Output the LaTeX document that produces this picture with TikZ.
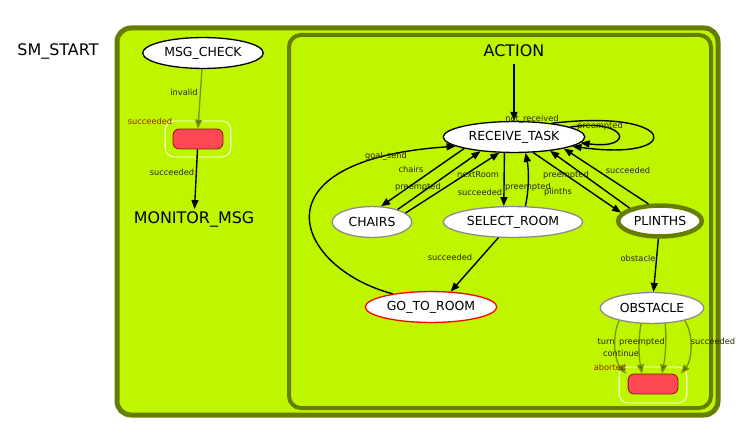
\documentclass[tikz,border=0pt]{standalone}
\usepackage{fontspec}
\setmainfont{DejaVu Sans}
\usetikzlibrary{arrows.meta,shapes.geometric}
\definecolor{limefill}{RGB}{192,245,0}
\definecolor{boxolive}{RGB}{102,126,0}
\definecolor{edgeolive}{RGB}{118,150,0}
\definecolor{headolive}{RGB}{92,112,20}
\definecolor{stategray}{RGB}{140,140,140}
\definecolor{endred}{RGB}{255,72,82}
\definecolor{endborder}{RGB}{140,20,30}
\definecolor{outcome}{RGB}{150,40,0}
\definecolor{labeltext}{RGB}{40,40,0}

\begin{document}
\begin{tikzpicture}[x=1bp,y=-1bp,
	trans/.style={line width=1.4bp,->,>={Triangle[length=9bp,width=7bp]}},
	soft/.style={line width=1.3bp,draw=edgeolive,->,>={Triangle[length=9bp,width=7bp,fill=headolive]}},
	state/.style={draw=stategray,line width=1.3bp,ellipse,fill=white,inner sep=0pt,
		minimum width=#1,minimum height=31,font=\fontsize{12.5}{14}\selectfont},
	big/.style={font=\fontsize{16}{18}\selectfont,inner sep=2pt},
	lbl/.style={font=\fontsize{8.3}{9}\selectfont,text=labeltext,inner sep=0pt,text height=6,text depth=1.5},
	endbox/.style={draw=endborder,fill=endred,line width=0.8bp,rounded corners=6,minimum width=50,minimum height=20,inner sep=0pt},
	endframe/.style={draw=white,line width=0.8bp,rounded corners=9,minimum width=66,minimum height=36,inner sep=0pt}]
\useasboundingbox (0,0) rectangle (749,437);

% containers
\draw[line width=5bp,draw=boxolive,fill=limefill,rounded corners=14] (117,28) rectangle (718,415);
\draw[line width=4bp,draw=boxolive,rounded corners=12] (289,35) rectangle (711,408);

\node[big] (smstart) at (58,51) {SM\_START};

% left container
\node[state=121,draw=black] (msgcheck) at (203,53) {MSG\_CHECK};
\node[endframe] (frameA) at (198,139) {};
\node[endbox] (endA) at (198,139) {};
\node[big] (monitor) at (194,219) {MONITOR\_MSG};

% ACTION container
\node[big] (action) at (514,51) {ACTION};
\node[state=142,draw=black] (rt) at (514,137) {RECEIVE\_TASK};
\node[state=80] (chairs) at (372,222) {CHAIRS};
\node[state=140] (select) at (513,222) {SELECT\_ROOM};
\node[state=84,draw=boxolive,line width=4.5bp] (plinths) at (660,221) {PLINTHS};
\node[state=132,draw=red] (gotoroom) at (431,307) {GO\_TO\_ROOM};
\node[state=104] (obstacle) at (652,308) {OBSTACLE};
\node[endframe,minimum width=68] (frameB) at (653,385) {};
\node[endbox] (endB) at (653,384) {};

\draw[soft] (msgcheck) -- (endA.north);
\draw[trans] (endA) -- (monitor);
\draw[trans,shorten <=5] (action) -- (rt);
\draw[trans] (rt.10) .. controls (628,118) and (636,150) .. (rt.-5);
\draw[trans] (rt.20) .. controls (680,108) and (685,162) .. (rt.-9);
\draw[trans] (rt.193.4) -- (chairs.60);
\draw[trans] (chairs.26.6) -- (rt.203.3);
\draw[trans] (chairs.15.3) -- (rt.227.4);
\draw[trans] (rt.239.7) -- (select.120.8);
\draw[trans] (select.52) .. controls (529,190) and (529,170) .. (rt.-54.3);
\draw[trans] (select.227.9) -- (gotoroom.38.8);
\draw[trans] (gotoroom.161.7) .. controls (295,268) and (250,160) .. (rt.189.6);
\draw[trans] (rt.-39.8) -- (plinths.168);
\draw[trans] (plinths.157) -- (rt.-21.8);
\draw[trans] (plinths.124.4) -- (rt.-13);
\draw[trans] (plinths) -- (obstacle);
\draw[soft] (obstacle.201.2) .. controls (612,335) and (614,360) .. ([xshift=-27]endB.north);
\draw[soft] (obstacle.235.8) .. controls (638,340) and (639,358) .. ([xshift=-11]endB.north);
\draw[soft] (obstacle.-50.6) .. controls (667,340) and (665,358) .. ([xshift=9]endB.north);
\draw[soft] (obstacle.-21.2) .. controls (694,335) and (692,360) .. ([xshift=28]endB.north);

% labels
\node[lbl] (lInvalid) at (184,93) {invalid};
\node[lbl,text=outcome] (lOutA) at (150,122) {succeeded};
\node[lbl] (lSuccA) at (172,173) {succeeded};
\node[lbl] (lNotRec) at (532,119) {not\_received};
\node[lbl] (lPreLoop) at (600,126) {preempted};
\node[lbl] (lGoal) at (386,156) {goal\_send};
\node[lbl] (lChairs) at (411,170) {chairs};
\node[lbl] (lPreCh) at (418,187) {preempted};
\node[lbl] (lNext) at (478,175) {nextRoom};
\node[lbl] (lSuccCh) at (480,193) {succeeded};
\node[lbl] (lPreSel) at (528,187) {preempted};
\node[lbl] (lPrePl) at (566,175) {preempted};
\node[lbl] (lPlinths) at (558,192) {plinths};
\node[lbl] (lSuccPl) at (628,171) {succeeded};
\node[lbl] (lSuccSel) at (450,258) {succeeded};
\node[lbl] (lObst) at (638,259) {obstacle};
\node[lbl] (lTurn) at (606,342) {turn};
\node[lbl] (lPreOb) at (642,342) {preempted};
\node[lbl] (lCont) at (621,354) {continue};
\node[lbl] (lSuccOb) at (713,342) {succeeded};
\node[lbl,text=outcome] (lAbort) at (610,368) {aborted};
\end{tikzpicture}
\end{document}
